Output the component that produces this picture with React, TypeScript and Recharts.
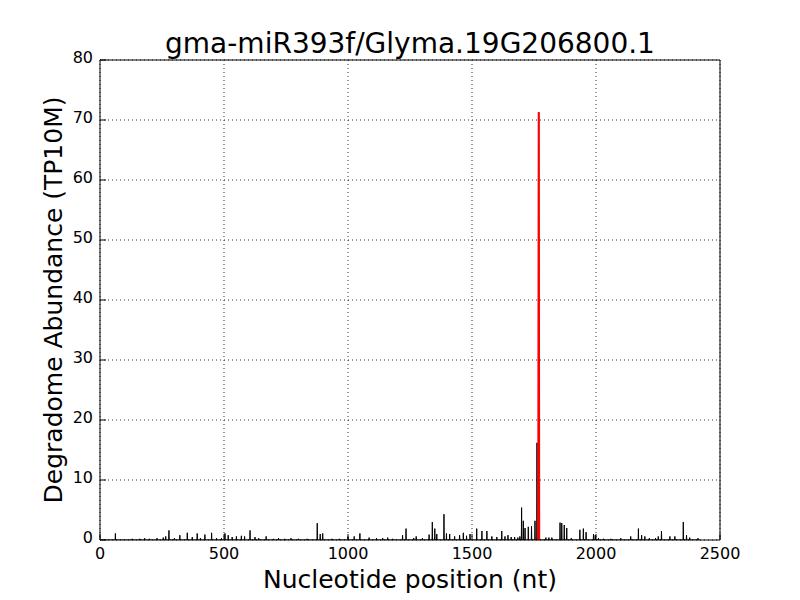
import React from 'react';
import {
  LineChart,
  Line,
  XAxis,
  YAxis,
  CartesianGrid,
} from 'recharts';

// spike positions (nt) and heights (TP10M)
const spikePos = [
  62, 130, 160, 180, 200, 230, 255, 265, 278, 300, 322, 352, 372, 392, 405, 423, 450, 470, 490, 504,
  517, 533, 550, 570, 583, 605, 625, 640, 670, 700, 720, 745, 770, 800, 835, 876, 888, 898, 935, 965,
  1000, 1025, 1048, 1085, 1115, 1140, 1160, 1180, 1220, 1234, 1265, 1275, 1300, 1327, 1340, 1350, 1358,
  1387, 1397, 1410, 1430, 1450, 1465, 1478, 1492, 1519, 1540, 1560, 1580, 1600, 1620, 1633, 1645, 1658,
  1672, 1685, 1693, 1700, 1707, 1714, 1727, 1740, 1754, 1762, 1769, 1798, 1810, 1822, 1855, 1862, 1872,
  1882, 1900, 1935, 1949, 1960, 1990, 1997, 2010, 2030, 2060, 2100, 2140, 2171, 2184, 2197, 2215, 2240,
  2251, 2264, 2298, 2318, 2352, 2365, 2378, 2411,
];
const spikeVal = [
  1.1, 0.2, 0.2, 0.3, 0.2, 0.3, 0.4, 0.6, 1.6, 0.3, 0.8, 1.2, 0.5, 1.1, 0.3, 0.9, 1.2, 0.3, 0.3, 1.1,
  0.8, 0.5, 0.6, 0.7, 0.6, 1.6, 0.5, 0.3, 0.6, 0.2, 0.3, 0.2, 0.3, 0.2, 0.2, 2.8, 1.0, 1.1, 0.2, 0.2,
  0.5, 0.6, 1.1, 0.4, 0.3, 0.3, 0.4, 0.2, 0.8, 1.9, 0.3, 0.6, 0.3, 0.9, 3.0, 1.9, 1.0,
  4.3, 1.1, 1.0, 0.6, 0.8, 1.2, 0.7, 1.0, 1.9, 1.5, 1.5, 0.6, 0.5, 1.5, 0.6, 0.8, 0.5,
  0.5, 0.4, 0.6, 5.4, 3.2, 2.0, 2.2, 2.3, 3.2, 16.2, 71.3, 0.4, 0.4, 0.4, 2.9, 2.8, 2.5,
  2.0, 0.3, 1.7, 1.9, 1.3, 1.0, 0.8, 0.3, 0.2, 0.2, 0.3, 0.6, 1.9, 0.8, 0.6, 0.3, 0.3,
  0.6, 1.5, 0.6, 0.6, 3.0, 0.8, 0.4, 0.3,
];

// cleavage site window (red)
const sitePos = [1767, 1769, 1770, 1771];
const siteVal = [0, 71.3, 42.8, 0];

const xTicks = [0, 500, 1000, 1500, 2000, 2500];
const yTicks = [0, 10, 20, 30, 40, 50, 60, 70, 80];

const baseline: { nt: number; v: number }[] = [{ nt: 0, v: 0 }];
spikePos.forEach((p, i) => {
  baseline.push({ nt: p - 1, v: 0 }, { nt: p, v: spikeVal[i] }, { nt: p + 1, v: 0 });
});
baseline.push({ nt: 2420, v: 0 });

const siteData = sitePos.map((p, i) => ({ nt: p, v: siteVal[i] }));

const FONT = 'DejaVu Sans, sans-serif';
const TICK = 6;

const BottomTick = ({ x, y, payload }: any) => (
  <g>
    <line x1={x} y1={y} x2={x} y2={y - TICK} stroke="#000" />
    <text x={x} y={y + 19} textAnchor="middle" fontSize={16} fontFamily={FONT} fill="#000">
      {payload.value}
    </text>
  </g>
);
const TopTick = ({ x, y }: any) => <line x1={x} y1={y} x2={x} y2={y + TICK} stroke="#000" />;
const LeftTick = ({ x, y, payload }: any) => (
  <g>
    <line x1={x} y1={y} x2={x + TICK} y2={y} stroke="#000" />
    <text x={x - 7} y={y + 3} textAnchor="end" fontSize={16} fontFamily={FONT} fill="#000">
      {payload.value}
    </text>
  </g>
);
const RightTick = ({ x, y }: any) => <line x1={x} y1={y} x2={x - TICK} y2={y} stroke="#000" />;

export default function App() {
  return (
    <div style={{ position: 'absolute', left: 0, top: 0, width: 800, height: 600, background: '#fff' }}>
      <LineChart width={800} height={600} margin={{ top: 50, right: 70, bottom: 30, left: 60 }}>
        <CartesianGrid stroke="#000" strokeDasharray="1 3" strokeWidth={0.8} />
        <XAxis
          dataKey="nt"
          type="number"
          domain={[0, 2500]}
          ticks={xTicks}
          height={30}
          tickSize={0}
          tickMargin={0}
          tickLine={false}
          axisLine={{ stroke: '#000' }}
          tick={<BottomTick />}
          interval={0}
          allowDataOverflow
        />
        <XAxis
          xAxisId="top"
          orientation="top"
          dataKey="nt"
          type="number"
          domain={[0, 2500]}
          ticks={xTicks}
          height={10}
          tickSize={0}
          tickMargin={0}
          tickLine={false}
          axisLine={{ stroke: '#000' }}
          tick={<TopTick />}
          interval={0}
        />
        <YAxis
          type="number"
          domain={[0, 80]}
          ticks={yTicks}
          width={40}
          tickSize={0}
          tickMargin={0}
          tickLine={false}
          axisLine={{ stroke: '#000' }}
          tick={<LeftTick />}
          interval={0}
          allowDataOverflow
        />
        <YAxis
          yAxisId="right"
          orientation="right"
          type="number"
          domain={[0, 80]}
          ticks={yTicks}
          width={10}
          tickSize={0}
          tickMargin={0}
          tickLine={false}
          axisLine={{ stroke: '#000' }}
          tick={<RightTick />}
          interval={0}
        />
        <Line
          data={baseline}
          dataKey="v"
          type="linear"
          stroke="#000"
          strokeWidth={1}
          dot={false}
          isAnimationActive={false}
        />
        <Line
          data={siteData}
          dataKey="v"
          type="linear"
          stroke="#ff0000"
          strokeWidth={2}
          dot={false}
          isAnimationActive={false}
        />
        <text x={410} y={53} textAnchor="middle" fontSize={28} fontFamily={FONT} fill="#000">
          gma-miR393f/Glyma.19G206800.1
        </text>
        <text x={410} y={588} textAnchor="middle" fontSize={25} fontFamily={FONT} fill="#000">
          Nucleotide position (nt)
        </text>
        <text
          x={62}
          y={300}
          textAnchor="middle"
          fontSize={25}
          fontFamily={FONT}
          fill="#000"
          transform="rotate(-90 62 300)"
        >
          Degradome Abundance (TP10M)
        </text>
      </LineChart>
    </div>
  );
}
